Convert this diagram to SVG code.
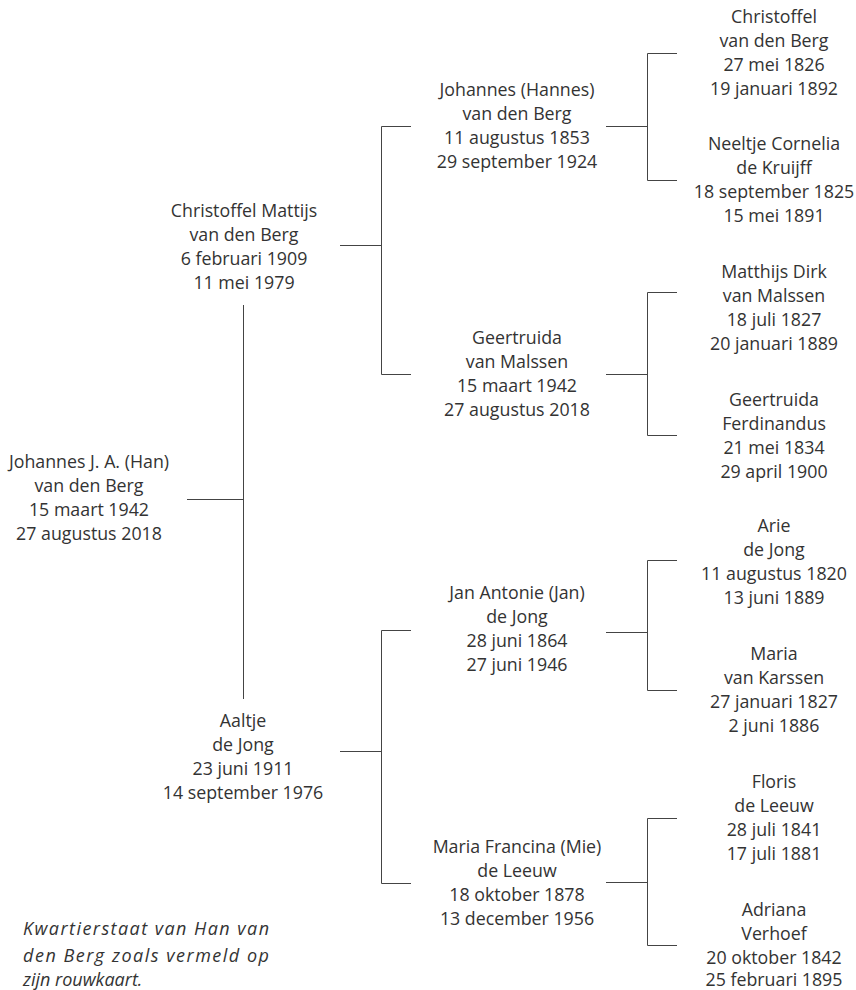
<svg xmlns="http://www.w3.org/2000/svg" width="856" height="990" viewBox="0 0 856 990">
<style>
.t{font-family:"Open Sans","Noto Sans","DejaVu Sans",sans-serif;font-size:17.8px;fill:#333;text-anchor:middle}
.c{font-family:"Open Sans","Noto Sans","DejaVu Sans",sans-serif;font-size:18px;fill:#333;font-style:italic}
.l{stroke:#444;stroke-width:1;fill:none}
</style>
<rect width="856" height="990" fill="#fff"/>
<g id="connectors" class="l">
<path d="M187 499.5H243.5M243.5 305V699"/>
<path d="M340 245.5H381.5M411 126.5H381.5V374.5H411"/>
<path d="M340 751.5H381.5M411 630.5H381.5V883.5H411"/>
<path d="M606 126.5H647.5M677 53.5H647.5V180.5H677"/>
<path d="M606 374.5H647.5M677 292.5H647.5V435.5H677"/>
<path d="M606 632.5H647.5M677 560.5H647.5V690.5H677"/>
<path d="M606 882.5H647.5M677 818.5H647.5V945.5H677"/>
</g>
<g id="han" class="t"><text x="89" y="468">Johannes J. A. (Han)</text><text x="89" y="492">van den Berg</text><text x="89" y="516">15 maart 1942</text><text x="89" y="540">27 augustus 2018</text></g>
<g id="christoffel-mattijs" class="t"><text x="244" y="217">Christoffel Mattijs</text><text x="244" y="241">van den Berg</text><text x="244" y="265">6 februari 1909</text><text x="244" y="289">11 mei 1979</text></g>
<g id="aaltje" class="t"><text x="243" y="727">Aaltje</text><text x="243" y="751">de Jong</text><text x="243" y="775">23 juni 1911</text><text x="243" y="799">14 september 1976</text></g>
<g id="johannes-hannes" class="t"><text x="517" y="96">Johannes (Hannes)</text><text x="517" y="120">van den Berg</text><text x="517" y="144">11 augustus 1853</text><text x="517" y="168">29 september 1924</text></g>
<g id="geertruida-vm" class="t"><text x="517" y="344">Geertruida</text><text x="517" y="368">van Malssen</text><text x="517" y="392">15 maart 1942</text><text x="517" y="416">27 augustus 2018</text></g>
<g id="jan-antonie" class="t"><text x="517" y="599">Jan Antonie (Jan)</text><text x="517" y="623">de Jong</text><text x="517" y="647">28 juni 1864</text><text x="517" y="671">27 juni 1946</text></g>
<g id="maria-francina" class="t"><text x="517" y="853">Maria Francina (Mie)</text><text x="517" y="877">de Leeuw</text><text x="517" y="901">18 oktober 1878</text><text x="517" y="925">13 december 1956</text></g>
<g id="christoffel" class="t"><text x="774" y="23">Christoffel</text><text x="774" y="47">van den Berg</text><text x="774" y="71">27 mei 1826</text><text x="774" y="95">19 januari 1892</text></g>
<g id="neeltje" class="t"><text x="774" y="150">Neeltje Cornelia</text><text x="774" y="174">de Kruijff</text><text x="774" y="198">18 september 1825</text><text x="774" y="222">15 mei 1891</text></g>
<g id="matthijs" class="t"><text x="774" y="278">Matthijs Dirk</text><text x="774" y="302">van Malssen</text><text x="774" y="326">18 juli 1827</text><text x="774" y="350">20 januari 1889</text></g>
<g id="geertruida-f" class="t"><text x="774" y="406">Geertruida</text><text x="774" y="430">Ferdinandus</text><text x="774" y="454">21 mei 1834</text><text x="774" y="478">29 april 1900</text></g>
<g id="arie" class="t"><text x="774" y="532">Arie</text><text x="774" y="556">de Jong</text><text x="774" y="580">11 augustus 1820</text><text x="774" y="604">13 juni 1889</text></g>
<g id="maria-vk" class="t"><text x="774" y="660">Maria</text><text x="774" y="684">van Karssen</text><text x="774" y="708">27 januari 1827</text><text x="774" y="732">2 juni 1886</text></g>
<g id="floris" class="t"><text x="774" y="788">Floris</text><text x="774" y="812">de Leeuw</text><text x="774" y="836">28 juli 1841</text><text x="774" y="860">17 juli 1881</text></g>
<g id="adriana" class="t"><text x="774" y="916">Adriana</text><text x="774" y="940">Verhoef</text><text x="774" y="964">20 oktober 1842</text><text x="774" y="986">25 februari 1895</text></g>
<g id="caption" class="c"><text x="23" y="935" textLength="246" lengthAdjust="spacing">Kwartierstaat van Han van</text><text x="23" y="962" textLength="246" lengthAdjust="spacing">den Berg zoals vermeld op</text><text x="23" y="986">zijn rouwkaart.</text></g>
</svg>
